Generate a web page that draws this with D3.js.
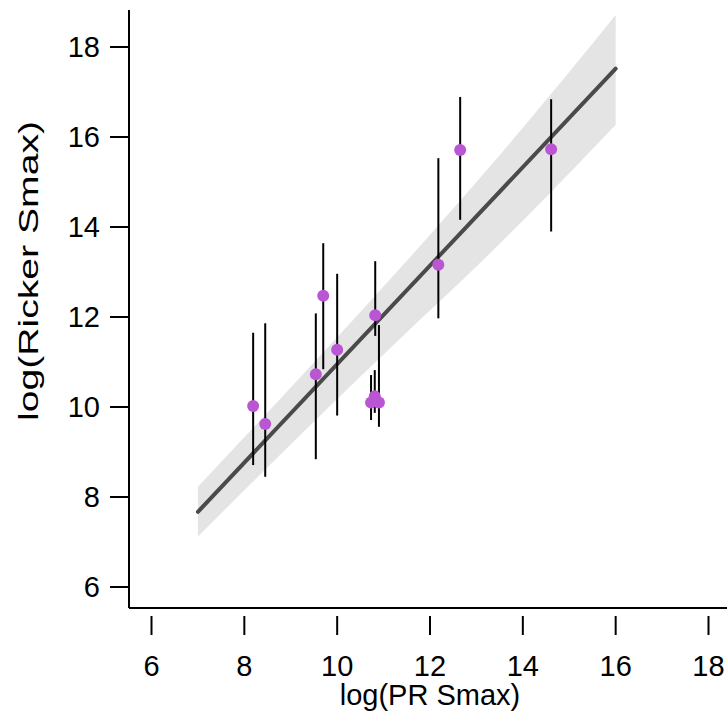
<!DOCTYPE html>
<html>
<head>
<meta charset="utf-8">
<script src="https://cdn.jsdelivr.net/npm/d3@7"></script>
<style>
  html, body { margin: 0; padding: 0; background: #ffffff; }
  svg { display: block; }
  text { font-family: "Liberation Sans", Arial, sans-serif; fill: #000; }
</style>
</head>
<body>
<svg id="chart" width="727" height="719"></svg>
<script>
// ---- data ----
const prSmax     = [8.19, 8.45, 9.54, 9.70, 10.00, 10.82, 10.73, 10.81, 10.90, 12.18, 12.65, 14.61];
const rickerSmax = [10.02, 9.62, 10.73, 12.47, 11.27, 12.04, 10.10, 10.24, 10.10, 13.16, 15.71, 15.73];
const rickerLow  = [8.71, 8.45, 8.84, 10.84, 9.81, 11.58, 9.71, 9.87, 9.56, 11.97, 14.16, 13.90];
const rickerHigh = [11.65, 11.86, 12.08, 13.64, 12.96, 13.24, 10.71, 10.82, 11.82, 15.53, 16.89, 16.84];

const fitX = [7, 16];
const fitY = [7.67, 17.52];

const bandX     = [7, 8.5, 10, 11.5, 13, 14.5, 16];
const bandLower = [7.12, 8.66, 10.18, 11.66, 13.12, 14.66, 16.27];
const bandUpper = [8.23, 9.88, 11.55, 13.25, 15.00, 16.82, 18.71];

const xTicks = [6, 8, 10, 12, 14, 16, 18];
const yTicks = [6, 8, 10, 12, 14, 16, 18];
const xTitle = "log(PR Smax)";
const yTitle = "log(Ricker Smax)";

// ---- scales ----
const x = d3.scaleLinear().domain([6, 18]).range([151.5, 708.5]);
const y = d3.scaleLinear().domain([6, 18]).range([587, 47]);

const svg = d3.select("#chart");
const fontSize = 29;

// band
const band = bandX.map((v, i) => ({x: v, lo: bandLower[i], hi: bandUpper[i]}));
svg.append("path")
  .datum(band)
  .attr("fill", "#e4e4e4")
  .attr("d", d3.area().curve(d3.curveMonotoneX).x(d => x(d.x)).y0(d => y(d.lo)).y1(d => y(d.hi)));

// fit line
svg.append("path")
  .datum(fitX.map((v, i) => [v, fitY[i]]))
  .attr("fill", "none")
  .attr("stroke", "#4a4a4a")
  .attr("stroke-width", 4)
  .attr("stroke-linecap", "round")
  .attr("d", d3.line().x(d => x(d[0])).y(d => y(d[1])));

// error bars
const pts = prSmax.map((v, i) => ({x: v, y: rickerSmax[i], lo: rickerLow[i], hi: rickerHigh[i]}));
svg.append("g").selectAll("line")
  .data(pts).join("line")
  .attr("x1", d => x(d.x)).attr("x2", d => x(d.x))
  .attr("y1", d => y(d.lo)).attr("y2", d => y(d.hi))
  .attr("stroke", "#000").attr("stroke-width", 2);

// points
svg.append("g").selectAll("circle")
  .data(pts).join("circle")
  .attr("cx", d => x(d.x)).attr("cy", d => y(d.y))
  .attr("r", 6)
  .attr("fill", "#ba55d3");

// axes (L-shaped box)
const axisY0 = 608, axisX0 = 129;
svg.append("line").attr("x1", axisX0).attr("x2", 727).attr("y1", axisY0).attr("y2", axisY0)
  .attr("stroke", "#000").attr("stroke-width", 2);
svg.append("line").attr("x1", axisX0).attr("x2", axisX0).attr("y1", 10).attr("y2", axisY0)
  .attr("stroke", "#000").attr("stroke-width", 2);

// x ticks
const xt = svg.append("g");
xt.selectAll("line").data(xTicks).join("line")
  .attr("x1", d => x(d)).attr("x2", d => x(d))
  .attr("y1", axisY0 + 8).attr("y2", axisY0 + 27)
  .attr("stroke", "#000").attr("stroke-width", 2);
xt.selectAll("text").data(xTicks).join("text")
  .attr("x", d => x(d)).attr("y", 676)
  .attr("text-anchor", "middle")
  .style("font-size", fontSize + "px")
  .text(d => d);

// y ticks
const yt = svg.append("g");
yt.selectAll("line").data(yTicks).join("line")
  .attr("x1", axisX0 - 19).attr("x2", axisX0)
  .attr("y1", d => y(d)).attr("y2", d => y(d))
  .attr("stroke", "#000").attr("stroke-width", 2);
yt.selectAll("text").data(yTicks).join("text")
  .attr("x", 100).attr("y", d => y(d))
  .attr("dy", "0.36em")
  .attr("text-anchor", "end")
  .style("font-size", fontSize + "px")
  .text(d => d);

// titles
svg.append("text").attr("x", 430).attr("y", 705)
  .attr("text-anchor", "middle").style("font-size", fontSize + "px").text(xTitle);
svg.append("text").attr("transform", "translate(38,271) rotate(-90)")
  .attr("text-anchor", "middle").style("font-size", (fontSize - 1) + "px")
  .attr("textLength", 300).attr("lengthAdjust", "spacingAndGlyphs")
  .text(yTitle);
</script>
</body>
</html>
